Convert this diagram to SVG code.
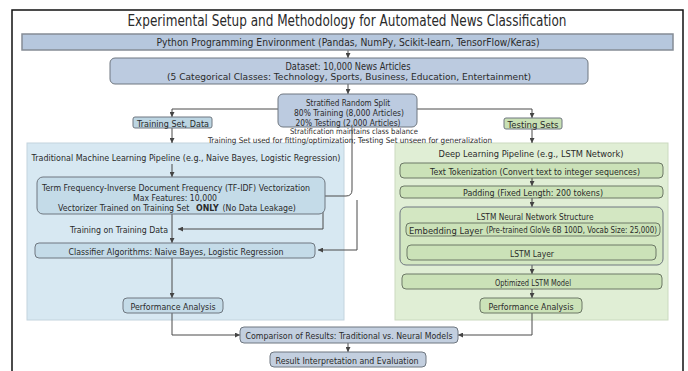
<svg xmlns="http://www.w3.org/2000/svg" width="688" height="371" viewBox="0 0 688 371">
  <defs>
    <marker id="arrow" viewBox="0 0 6 6" refX="6" refY="3" markerWidth="5" markerHeight="5" markerUnits="userSpaceOnUse" orient="auto">
      <path d="M0,0 L6,3 L0,6 z" fill="#444"/>
    </marker>
    <style>
      text { font-family: "DejaVu Sans", "Liberation Sans", sans-serif; fill: #2a2a2a; text-anchor: middle; dominant-baseline: central; }
      .t9 { font-size: 9.5px; }
      .t10 { font-size: 10.5px; }
      .t8 { font-size: 7.8px; }
      .start { text-anchor: start; }
      .box { stroke: #6f7780; stroke-width: 1; }
      .blue { fill: #bccbe0; }
      .teal { fill: #c4dbe8; }
      .green { fill: #cbe2b8; stroke: #6c7866; }
      .conn { fill: none; stroke: #4a4a4a; stroke-width: 1; }
      .arr { marker-end: url(#arrow); }
    </style>
  </defs>

  <rect width="688" height="371" fill="#ffffff"/>
  <!-- frame -->
  <path d="M12,371 V10 H683 V371" fill="none" stroke="#111" stroke-width="1.5"/>

  <text x="347" y="21" style="font-size:15px" textLength="439" lengthAdjust="spacingAndGlyphs">Experimental Setup and Methodology for Automated News Classification</text>

  <!-- pipeline panels -->
  <g id="panel-traditional">
    <rect x="27" y="143" width="317" height="177" fill="#d7e8f2" stroke="#c3d4de" stroke-width="1"/>
    <text class="t9" x="186" y="157" textLength="309" lengthAdjust="spacingAndGlyphs">Traditional Machine Learning Pipeline (e.g., Naive Bayes, Logistic Regression)</text>
  </g>
  <g id="panel-deep">
    <rect x="395" y="143" width="273" height="177" fill="#e0eed5" stroke="#cbdabf" stroke-width="1"/>
    <text class="t9" x="531" y="153" textLength="185" lengthAdjust="spacingAndGlyphs">Deep Learning Pipeline (e.g., LSTM Network)</text>
  </g>

  <!-- connectors -->
  <g id="connectors">
    <path class="conn arr" d="M348,50 V58"/>
    <path class="conn arr" d="M348,84 V94"/>
    <path class="conn arr" d="M278,109 H172 V117"/>
    <path class="conn arr" d="M417,109 H532 V118"/>
    <path class="conn arr" d="M172,128 V143"/>
    <path class="conn arr" d="M172,164 V177"/>
    <path class="conn arr" d="M172,214 V243"/>
    <path class="conn arr" d="M352,127 V190 Q352,196 346,196 H323 V229 H178"/>
    <path class="conn arr" d="M357,200 V250 H318"/>
    <path class="conn arr" d="M172,258 V298"/>
    <path class="conn arr" d="M172,313 V335 H240"/>
    <path class="conn arr" d="M532,129 V143"/>
    <path class="conn arr" d="M532,178 V186"/>
    <path class="conn arr" d="M532,198 V207"/>
    <path class="conn arr" d="M532,236 V245"/>
    <path class="conn arr" d="M532,265 V274"/>
    <path class="conn arr" d="M532,289 V298"/>
    <path class="conn arr" d="M532,313 V335 H458"/>
    <path class="conn arr" d="M348,343 V352"/>
  </g>

  <g id="environment">
    <rect x="22" y="34" width="651" height="16" fill="#b6c7dd" stroke="#858c95" stroke-width="1.5"/>
    <text class="t10" x="348" y="42" textLength="383" lengthAdjust="spacingAndGlyphs">Python Programming Environment (Pandas, NumPy, Scikit-learn, TensorFlow/Keras)</text>
  </g>

  <g id="dataset">
    <rect class="box blue" x="110" y="58" width="478" height="26" rx="5"/>
    <text class="t10" x="348" y="66" textLength="125" lengthAdjust="spacingAndGlyphs">Dataset: 10,000 News Articles</text>
    <text class="t9" x="349" y="76.5" textLength="364" lengthAdjust="spacingAndGlyphs">(5 Categorical Classes: Technology, Sports, Business, Education, Entertainment)</text>
  </g>

  <g id="split">
    <rect class="box blue" x="278" y="94" width="139" height="33" rx="5"/>
    <text class="t9" x="348" y="102" textLength="84" lengthAdjust="spacingAndGlyphs">Stratified Random Split</text>
    <text class="t9" x="349" y="112" textLength="110" lengthAdjust="spacingAndGlyphs">80% Training (8,000 Articles)</text>
    <text class="t9" x="348" y="122" textLength="105" lengthAdjust="spacingAndGlyphs">20% Testing (2,000 Articles)</text>
  </g>

  <g id="split-notes">
    <text class="t8" x="354" y="131.5" textLength="128" lengthAdjust="spacingAndGlyphs">Stratification maintains class balance</text>
    <text class="t8" x="350" y="140" textLength="284" lengthAdjust="spacingAndGlyphs">Training Set used for fitting/optimization; Testing Set unseen for generalization</text>
  </g>

  <g id="training-set">
    <rect class="box" x="133" y="117" width="79" height="11" rx="2" fill="#bcd5e2"/>
    <text class="t9" x="173" y="123" textLength="72" lengthAdjust="spacingAndGlyphs">Training Set, Data</text>
  </g>

  <g id="testing-sets">
    <rect class="box" x="504" y="118" width="58" height="11" rx="2" fill="#c8e0b4" stroke="#6c7866"/>
    <text class="t9" x="533" y="124" textLength="51" lengthAdjust="spacingAndGlyphs">Testing Sets</text>
  </g>

  <g id="tfidf">
    <rect class="box teal" x="37" y="177" width="288" height="37" rx="6"/>
    <text class="t9" x="176" y="187" textLength="268" lengthAdjust="spacingAndGlyphs">Term Frequency-Inverse Document Frequency (TF-IDF) Vectorization</text>
    <text class="t9" x="175" y="197.5" textLength="84" lengthAdjust="spacingAndGlyphs">Max Features: 10,000</text>
    <text class="t9 start" transform="translate(58,208) scale(0.826,1)" x="0" y="0">Vectorizer Trained on Training Set</text>
    <text class="t9 start" transform="translate(196,208) scale(0.826,1)" x="0" y="0" font-weight="bold">ONLY</text>
    <text class="t9 start" transform="translate(222.5,208) scale(0.826,1)" x="0" y="0">(No Data Leakage)</text>
  </g>

  <g id="training-label">
    <text class="t9" x="119" y="229" textLength="98" lengthAdjust="spacingAndGlyphs">Training on Training Data</text>
  </g>

  <g id="classifier">
    <rect class="box teal" x="35" y="243" width="280" height="15" rx="4"/>
    <text class="t9" x="176" y="251" textLength="215" lengthAdjust="spacingAndGlyphs">Classifier Algorithms: Naive Bayes, Logistic Regression</text>
  </g>

  <g id="trad-performance">
    <rect class="box teal" x="123" y="298" width="100" height="15" rx="4"/>
    <text class="t9" x="173" y="306" textLength="85" lengthAdjust="spacingAndGlyphs">Performance Analysis</text>
  </g>

  <g id="tokenization">
    <rect class="box green" x="400" y="163" width="263" height="15" rx="4"/>
    <text class="t9" x="535" y="171" textLength="210" lengthAdjust="spacingAndGlyphs">Text Tokenization (Convert text to integer sequences)</text>
  </g>

  <g id="padding">
    <rect class="box green" x="400" y="186" width="263" height="12" rx="4"/>
    <text class="t9" x="533" y="192" textLength="140" lengthAdjust="spacingAndGlyphs">Padding (Fixed Length: 200 tokens)</text>
  </g>

  <g id="lstm-structure">
    <rect class="box" x="400" y="207" width="263" height="58" rx="6" fill="#d3e7c2" stroke="#6c7866"/>
    <text class="t9" x="535" y="216" textLength="117" lengthAdjust="spacingAndGlyphs">LSTM Neural Network Structure</text>
  </g>

  <g id="embedding">
    <rect class="box green" x="406" y="223" width="254" height="13" rx="4"/>
    <text class="t9 start" x="409" y="230" textLength="74" lengthAdjust="spacingAndGlyphs">Embedding Layer</text>
    <text class="start" x="486" y="230" style="font-size:8px" textLength="171" lengthAdjust="spacingAndGlyphs">(Pre-trained GloVe 6B 100D, Vocab Size: 25,000)</text>
  </g>

  <g id="lstm-layer">
    <rect class="box green" x="407" y="245" width="249" height="15" rx="4"/>
    <text class="t9" x="532" y="253" textLength="44" lengthAdjust="spacingAndGlyphs">LSTM Layer</text>
  </g>

  <g id="optimized-model">
    <rect class="box green" x="402" y="274" width="260" height="15" rx="4"/>
    <text class="t9" x="533" y="282" textLength="76" lengthAdjust="spacingAndGlyphs">Optimized LSTM Model</text>
  </g>

  <g id="dl-performance">
    <rect class="box green" x="480" y="298" width="102" height="15" rx="4"/>
    <text class="t9" x="531" y="306" textLength="85" lengthAdjust="spacingAndGlyphs">Performance Analysis</text>
  </g>

  <g id="comparison">
    <rect class="box" x="240" y="327" width="218" height="16" rx="4" fill="#c3cfdf"/>
    <text class="t9" x="349" y="335" textLength="207" lengthAdjust="spacingAndGlyphs">Comparison of Results: Traditional vs. Neural Models</text>
  </g>

  <g id="result">
    <rect class="box" x="270" y="352" width="156" height="15" rx="4" fill="#c3cfdf"/>
    <text class="t9" x="347" y="360" textLength="143" lengthAdjust="spacingAndGlyphs">Result Interpretation and Evaluation</text>
  </g>
</svg>
